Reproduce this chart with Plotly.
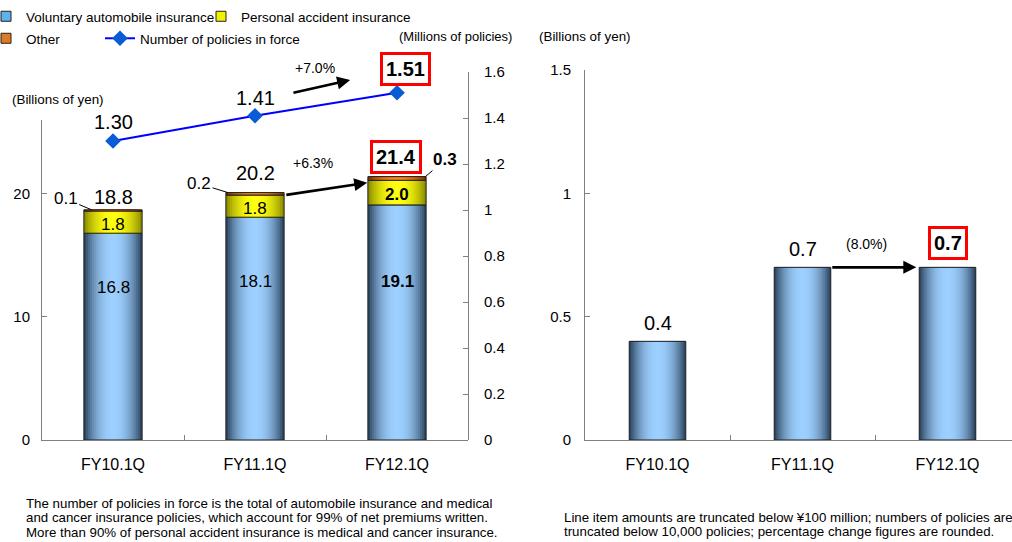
import plotly.graph_objects as go

# ---- data -------------------------------------------------------------
quarters = ["FY10.1Q", "FY11.1Q", "FY12.1Q"]
auto_ins = [16.8, 18.1, 19.1]          # voluntary automobile insurance (billions of yen)
accident_ins = [1.8, 1.8, 2.0]         # personal accident insurance
other_ins = [0.1, 0.2, 0.3]            # other
premium_totals = [18.8, 20.2, 21.4]    # reported totals (billions of yen)
policies = [1.30, 1.41, 1.51]          # number of policies in force (millions)
premium_growth = "+6.3%"
policies_growth = "+7.0%"

right_values = [0.4, 0.7, 0.7]         # billions of yen
right_growth = "(8.0%)"

left_ticks = [0, 10, 20]
policy_ticks = [0, 0.2, 0.4, 0.6, 0.8, 1.0, 1.2, 1.4, 1.6]
right_ticks = [0, 0.5, 1, 1.5]
right_tick_labels = ["0", "0.5", "1", "1.5"]

# ---- geometry helpers (pixel -> paper) --------------------------------
W, H = 1012, 542
FONT = "Liberation Sans, Arial, sans-serif"


def px(x):
    return x / W


def py(y):
    return 1 - y / H


BOT = 440
L_X0, L_X1 = 42, 468
R_X0 = 585
BAR_W_L = 0.41
BAR_W_R = 0.39


def hex_rgb(h):
    h = h.lstrip("#")
    return tuple(int(h[i:i + 2], 16) for i in (0, 2, 4))


def mix(c_center, c_edge, t):
    a, b = hex_rgb(c_center), hex_rgb(c_edge)
    return "rgb(%d,%d,%d)" % tuple(round(a[i] + (b[i] - a[i]) * t) for i in range(3))


fig = go.Figure()


def gradient_bars(x, heights, bases, center, edge, width, xa, ya, layers=14):
    """Cylinder-style shading: nested bars, darkest at the rim."""
    for k in range(layers):
        f = 1 - k / layers
        fig.add_trace(go.Bar(
            x=x, y=heights, base=bases, width=width * f,
            marker=dict(color=mix(center, edge, f ** 2.2), line=dict(width=0)),
            xaxis=xa, yaxis=ya, showlegend=False, hoverinfo="skip"))
    fig.add_trace(go.Bar(
        x=x, y=heights, base=bases, width=width,
        marker=dict(color="rgba(0,0,0,0)", line=dict(color="#1e1e1e", width=1)),
        xaxis=xa, yaxis=ya, showlegend=False, hoverinfo="skip"))


BLUE_C, BLUE_E = "#9ED0FF", "#2E4864"
YEL_C, YEL_E = "#FFFF10", "#8E8E00"
ORA_C, ORA_E = "#F5871F", "#7A3000"

base_acc = [a for a in auto_ins]
base_oth = [a + b for a, b in zip(auto_ins, accident_ins)]
zero = [0, 0, 0]

gradient_bars(quarters, auto_ins, zero, BLUE_C, BLUE_E, BAR_W_L, "x", "y")
gradient_bars(quarters, accident_ins, base_acc, YEL_C, YEL_E, BAR_W_L, "x", "y")
gradient_bars(quarters, other_ins, base_oth, ORA_C, ORA_E, BAR_W_L, "x", "y")
gradient_bars(quarters, right_values, zero, BLUE_C, BLUE_E, BAR_W_R, "x2", "y3")


def legend_swatch(name, color, legend):
    fig.add_trace(go.Scatter(
        x=[None], y=[None], mode="markers", name=name, legend=legend,
        marker=dict(symbol="square", size=10, color=color, line=dict(color="#222", width=1)),
        hoverinfo="skip"))


legend_swatch("Voluntary automobile insurance", "#5FB2EA", "legend")
legend_swatch("Personal accident insurance", "#F2F200", "legend2")
legend_swatch("Other", "#E07A22", "legend3")

fig.add_trace(go.Scatter(
    x=quarters, y=policies, xaxis="x", yaxis="y2", mode="lines+markers",
    name="Number of policies in force",
    line=dict(color="#0000FF", width=2),
    marker=dict(symbol="diamond", size=12, color="#0A5BD6"),
    legend="legend4", hoverinfo="skip"))

# ---- annotations ------------------------------------------------------
ann = []


def text(x, y, t, size=13, bold=False, xref="paper", yref="paper", **kw):
    d = dict(x=x, y=y, xref=xref, yref=yref, text=("<b>%s</b>" % t) if bold else t,
             showarrow=False, xanchor="center", yanchor="middle",
             font=dict(family=FONT, size=size, color="#000"))
    d.update(kw)
    ann.append(d)


RED_BOX = dict(bordercolor="#FF0000", borderwidth=3, borderpad=3, bgcolor="#FFFFFF")

# unit captions
text(px(514), py(37), "(Millions of policies)", 13, xanchor="right")
text(px(10), py(100), "(Billions of yen)", 13.4, xanchor="left")
text(px(537), py(37), "(Billions of yen)", 13.4, xanchor="left")

# policies line values
pol_shift = [19, 18, 24]
for i, q in enumerate(quarters):
    last = i == len(quarters) - 1
    extra = RED_BOX if last else {}
    text(q, policies[i], "%.2f" % policies[i], 20, bold=last, xref="x", yref="y2",
         yshift=pol_shift[i], xshift=8 if last else 0, **extra)

# premium totals above bars
tot_shift = [12, 18, 20]
for i, q in enumerate(quarters):
    last = i == len(quarters) - 1
    extra = RED_BOX if last else {}
    text(q, premium_totals[i], "%.1f" % premium_totals[i], 20, bold=last,
         xref="x", yref="y", yshift=tot_shift[i], xshift=-1 if last else 0, **extra)

# values inside the bars
auto_label_y = [287, 282, 282]
for i, q in enumerate(quarters):
    last = i == len(quarters) - 1
    text(q, py(auto_label_y[i]), "%.1f" % auto_ins[i], 17, bold=last, xref="x")
    text(q, auto_ins[i] + accident_ins[i] / 2, "%.1f" % accident_ins[i], 17, bold=last,
         xref="x", yref="y", yshift=-2)

# "other" values with leader lines
other_off = [(-26, -11), (-29, -9), (20, -17)]
other_x = [-0.15, -0.19, 0.2]
for i, q in enumerate(quarters):
    last = i == len(quarters) - 1
    ann.append(dict(
        x=i + other_x[i], y=base_oth[i] + other_ins[i], xref="x", yref="y",
        text=("<b>%.1f</b>" if last else "%.1f") % other_ins[i],
        showarrow=True, arrowhead=0, arrowwidth=1, arrowcolor="#000",
        ax=other_off[i][0], ay=other_off[i][1],
        font=dict(family=FONT, size=17, color="#000")))

# growth arrows
ARROW = dict(showarrow=True, arrowhead=2, arrowsize=1, arrowwidth=2.6, arrowcolor="#000", text="")
ann.append(dict(x=1.79, y=20.9, xref="x", yref="y", ax=1.21, ay=19.9, axref="x", ayref="y", **ARROW))
ann.append(dict(x=1.67, y=1.565, xref="x", yref="y2", ax=1.26, ay=1.508, axref="x", ayref="y2", **ARROW))
ann.append(dict(x=2 - BAR_W_R / 2 - 0.02, y=right_values[1], xref="x2", yref="y3",
                ax=1 + BAR_W_R / 2, ay=right_values[1], axref="x2", ayref="y3", **ARROW))
text(px(313), py(163), premium_growth, 14)
text(px(315), py(68), policies_growth, 14)
text(px(866), py(244), right_growth, 14)

# right chart values
r_shift = [18, 18, 24]
for i, q in enumerate(quarters):
    last = i == len(quarters) - 1
    extra = RED_BOX if last else {}
    text(q, right_values[i], "%.1f" % right_values[i], 20, bold=last, xref="x2", yref="y3",
         yshift=r_shift[i], **extra)

# footnotes
notes_left = [
    "The number of policies in force is the total of automobile insurance and medical",
    "and cancer insurance policies, which account for 99% of net premiums written.",
    "More than 90% of personal accident insurance is medical and cancer insurance.",
]
notes_right = [
    "Line item amounts are truncated below \u00a5100 million; numbers of policies are",
    "truncated below 10,000 policies; percentage change figures are rounded.",
]
for j, line in enumerate(notes_left):
    text(px(24), py(503 + 14.5 * j), line, 13.3, xanchor="left")
for j, line in enumerate(notes_right):
    text(px(562), py(517 + 14.5 * j), line, 13.3, xanchor="left")

# ---- axes -------------------------------------------------------------
AX = dict(showline=True, linecolor="#808080", linewidth=1, showgrid=False, zeroline=False,
          ticks="inside", ticklen=5, tickcolor="#808080",
          tickfont=dict(family=FONT, size=15, color="#000"))

LEG = dict(orientation="h", xanchor="left", yanchor="top", itemwidth=30,
           font=dict(family=FONT, size=13.5, color="#000"), bgcolor="rgba(0,0,0,0)")

fig.update_layout(
    width=W, height=H, margin=dict(l=0, r=0, t=0, b=0, autoexpand=False),
    paper_bgcolor="white", plot_bgcolor="rgba(0,0,0,0)",
    barmode="overlay", hovermode=False,
    font=dict(family=FONT, color="#000"),
    xaxis=dict(AX, domain=[px(L_X0), px(L_X1)], anchor="y", type="category",
               range=[-0.5, 2.5], tickson="boundaries", ticklabelstandoff=10,
               tickfont=dict(family=FONT, size=16, color="#000")),
    yaxis=dict(AX, domain=[py(BOT), py(120)], anchor="x", range=[0, 26],
               tickvals=left_ticks, ticklabelstandoff=8),
    yaxis2=dict(AX, domain=[py(BOT), py(72)], anchor="x", side="right", range=[0, 1.6],
                tickvals=policy_ticks, ticklabelstandoff=12),
    xaxis2=dict(AX, domain=[px(R_X0), 1], anchor="y3", type="category",
                range=[-0.5, -0.5 + (W - R_X0) / 145], tickson="boundaries",
                ticklabelstandoff=10, tickfont=dict(family=FONT, size=16, color="#000")),
    yaxis3=dict(AX, domain=[py(BOT), py(70)], anchor="x2", range=[0, 1.5],
                tickvals=right_ticks, ticktext=right_tick_labels, ticklabelstandoff=10),
    legend=dict(LEG, x=px(-14), y=py(1)),
    legend2=dict(LEG, x=px(201), y=py(1)),
    legend3=dict(LEG, x=px(-14), y=py(23)),
    legend4=dict(LEG, x=px(100), y=py(23)),
    annotations=ann,
)

fig.write_html("out.html")
